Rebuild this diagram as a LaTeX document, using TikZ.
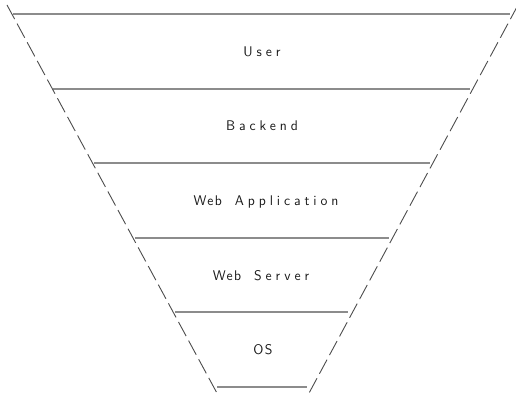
\documentclass[tikz,border=0pt]{standalone}
\usepackage{fontspec}
\setsansfont{Latin Modern Sans}[LetterSpace=28,WordSpace=1.6]
\newfontfamily\tightsans{Latin Modern Sans}[LetterSpace=10]
\begin{document}
\begin{tikzpicture}[x=1pt,y=-1pt,
  hline/.style={draw=black!45,line width=1.2pt},
  side/.style={draw=black!70,line width=0.9pt,dash pattern=on 16pt off 5.2pt},
  lbl/.style={anchor=base,font=\sffamily\fontsize{14}{16}\selectfont,text=black!90,inner sep=0pt}]
\useasboundingbox (0,0) rectangle (516,395);
\begin{scope}
\clip (0,0) rectangle (516,395);
% horizontal dividers
\coordinate (l0) at (13,14);  \coordinate (r0) at (510,14);
\coordinate (l1) at (53,89);  \coordinate (r1) at (470,89);
\coordinate (l2) at (94,163); \coordinate (r2) at (430,163);
\coordinate (l3) at (135,238);\coordinate (r3) at (389,238);
\coordinate (l4) at (175,312);\coordinate (r4) at (348,312);
\coordinate (l5) at (217,387);\coordinate (r5) at (307,387);
\foreach \i in {0,...,5} \draw[hline] (l\i) -- (r\i);
% sides
\coordinate (lt) at (7,5);   \coordinate (lb) at (218,395);
\coordinate (rt) at (518,5); \coordinate (rb) at (308,395);
\draw[side] (lt) -- (lb);
\draw[side] (rt) -- (rb);
\end{scope}
% labels
\node[lbl] (user) at (262,56.5) {User};
\node[lbl] (backend) at (262,131) {Backend};
\node[lbl] (webapp) at (266,205.5) {{\tightsans Web}\hspace{13pt}Application};
\node[lbl] (websrv) at (261,280) {{\tightsans Web}\hspace{13pt}Server};
\node[lbl] (os) at (263,354.5) {\tightsans OS};
\end{tikzpicture}
\end{document}
